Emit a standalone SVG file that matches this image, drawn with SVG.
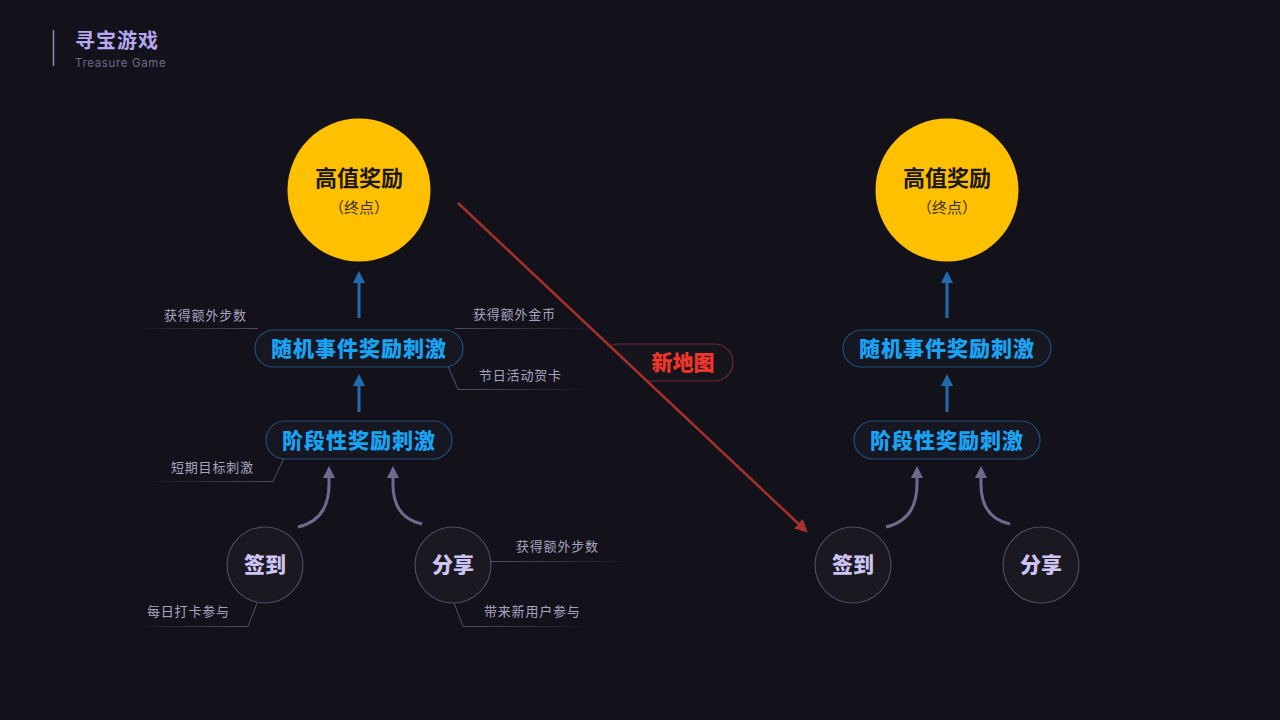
<svg xmlns="http://www.w3.org/2000/svg" width="1280" height="720" viewBox="0 0 1280 720">
<defs>
<style>
.cjk{font-family:"Noto Sans CJK SC","Noto Sans",sans-serif}
.goal{fill:#ffc000}
.goalT{font-size:22px;font-weight:700;fill:#1a1714;text-anchor:middle}
.goalS{font-size:15px;fill:#3a3020;text-anchor:middle}
.pill{fill:#161720;stroke:#1f4f7c;stroke-width:1.2}
.pillT{font-size:21px;font-weight:900;fill:#19a3f5;text-anchor:middle;letter-spacing:1px}
.act{fill:#1a1922;stroke:#4d4a63;stroke-width:1.2}
.actT{font-size:21px;font-weight:900;fill:#cdc4f2;text-anchor:middle}
.note{font-size:13px;fill:#a8a4c0;letter-spacing:0.8px}
.nl{fill:none;stroke-width:1}
.blue{stroke:#1f6db0;stroke-width:3;fill:none}
.gray{stroke:#6f6a8e;stroke-width:3;fill:none}
</style>
<marker id="ab" viewBox="0 0 10 10" refX="5" refY="5" markerWidth="4" markerHeight="4" orient="auto"><path d="M0,0 L10,5 L0,10 z" fill="#1f6db0"/></marker>
<marker id="ag" viewBox="0 0 10 10" refX="5" refY="5" markerWidth="4" markerHeight="4" orient="auto"><path d="M0,0 L10,5 L0,10 z" fill="#6f6a8e"/></marker>
<marker id="ar" viewBox="0 0 10 10" refX="6" refY="5" markerWidth="5" markerHeight="5" orient="auto"><path d="M0,0 L10,5 L0,10 z" fill="#a3302b"/></marker>
<clipPath id="mapClip"><polygon points="598,335 760,335 760,390 656.4,390"/></clipPath>
<linearGradient id="gL1" gradientUnits="userSpaceOnUse" x1="135" y1="0" x2="258" y2="0"><stop offset="0" stop-color="#4e4b63" stop-opacity="0"/><stop offset="1" stop-color="#4e4b63"/></linearGradient>
<linearGradient id="gR1" gradientUnits="userSpaceOnUse" x1="455" y1="0" x2="600" y2="0"><stop offset="0" stop-color="#4e4b63"/><stop offset="1" stop-color="#4e4b63" stop-opacity="0"/></linearGradient>
<linearGradient id="gR2" gradientUnits="userSpaceOnUse" x1="448" y1="0" x2="595" y2="0"><stop offset="0" stop-color="#55526b"/><stop offset="1" stop-color="#55526b" stop-opacity="0"/></linearGradient>
<linearGradient id="gL2" gradientUnits="userSpaceOnUse" x1="145" y1="0" x2="285" y2="0"><stop offset="0" stop-color="#55526b" stop-opacity="0"/><stop offset="1" stop-color="#55526b"/></linearGradient>
<linearGradient id="gL3" gradientUnits="userSpaceOnUse" x1="128" y1="0" x2="258" y2="0"><stop offset="0" stop-color="#55526b" stop-opacity="0"/><stop offset="1" stop-color="#55526b"/></linearGradient>
<linearGradient id="gR3" gradientUnits="userSpaceOnUse" x1="491" y1="0" x2="630" y2="0"><stop offset="0" stop-color="#55526b"/><stop offset="1" stop-color="#55526b" stop-opacity="0"/></linearGradient>
<linearGradient id="gR4" gradientUnits="userSpaceOnUse" x1="453" y1="0" x2="595" y2="0"><stop offset="0" stop-color="#55526b"/><stop offset="1" stop-color="#55526b" stop-opacity="0"/></linearGradient>
</defs>
<rect width="1280" height="720" fill="#13121a"/>

<g id="title">
<line x1="53.5" y1="30" x2="53.5" y2="66" stroke="#8f86c0" stroke-width="1.5"/>
<text class="cjk" x="75" y="48" font-size="20" font-weight="700" fill="#b6a8f2" letter-spacing="1">寻宝游戏</text>
<text x="75" y="67" font-family="Inter, 'Liberation Sans', sans-serif" font-size="11.5" fill="#6f6b88" letter-spacing="0.65">Treasure Game</text>
</g>

<g id="connectors">
<line class="blue" x1="359" y1="318" x2="359" y2="277" marker-end="url(#ab)"/>
<line class="blue" x1="359" y1="412" x2="359" y2="380" marker-end="url(#ab)"/>
<path class="gray" d="M298,527 Q329,520 329,484 L329,472" marker-end="url(#ag)"/>
<path class="gray" d="M422,524 Q393,518 393,484 L393,472" marker-end="url(#ag)"/>
<line class="blue" x1="947" y1="318" x2="947" y2="277" marker-end="url(#ab)"/>
<line class="blue" x1="947" y1="412" x2="947" y2="380" marker-end="url(#ab)"/>
<path class="gray" d="M886,527 Q917,520 917,484 L917,472" marker-end="url(#ag)"/>
<path class="gray" d="M1010,524 Q981,518 981,484 L981,472" marker-end="url(#ag)"/>
</g>

<g id="notes">
<line class="nl" x1="135" y1="328.5" x2="258" y2="328.5" stroke="url(#gL1)"/>
<line class="nl" x1="455" y1="328.5" x2="600" y2="328.5" stroke="url(#gR1)"/>
<path class="nl" d="M448,366 L458,389.5 L595,389.5" stroke="url(#gR2)"/>
<path class="nl" d="M284,458 L273,481.5 L145,481.5" stroke="url(#gL2)"/>
<path class="nl" d="M257,603 L248,626.5 L128,626.5" stroke="url(#gL3)"/>
<line class="nl" x1="491" y1="561.5" x2="630" y2="561.5" stroke="url(#gR3)"/>
<path class="nl" d="M454,603 L463,626.5 L595,626.5" stroke="url(#gR4)"/>
<text class="cjk note" x="164" y="320">获得额外步数</text>
<text class="cjk note" x="473" y="319">获得额外金币</text>
<text class="cjk note" x="479" y="380">节日活动贺卡</text>
<text class="cjk note" x="171" y="472">短期目标刺激</text>
<text class="cjk note" x="147" y="616">每日打卡参与</text>
<text class="cjk note" x="516" y="551">获得额外步数</text>
<text class="cjk note" x="484" y="616">带来新用户参与</text>
</g>

<g id="goal-left">
<circle class="goal" cx="359" cy="190" r="71.5"/>
<text class="cjk goalT" x="359" y="186">高值奖励</text>
<text class="cjk goalS" x="359" y="213">（终点）</text>
</g>
<g id="random-left">
<rect class="pill" x="255" y="330" width="208" height="37" rx="18.5"/>
<text class="cjk pillT" x="359" y="356">随机事件奖励刺激</text>
</g>
<g id="stage-left">
<rect class="pill" x="266" y="421" width="186" height="38" rx="19"/>
<text class="cjk pillT" x="359" y="448">阶段性奖励刺激</text>
</g>
<g id="checkin-left">
<circle class="act" cx="265" cy="565" r="38"/>
<text class="cjk actT" x="265" y="572">签到</text>
</g>
<g id="share-left">
<circle class="act" cx="453" cy="565" r="38"/>
<text class="cjk actT" x="453" y="572">分享</text>
</g>

<g id="new-map">
<rect x="600" y="344" width="133" height="37" rx="18.5" fill="#16151d" stroke="#6e2a2c" stroke-width="1.2" clip-path="url(#mapClip)"/>
<text class="cjk" x="683" y="370" font-size="21" font-weight="900" fill="#f2352a" text-anchor="middle">新地图</text>
</g>
<g id="red-connector">
<line x1="458" y1="203" x2="804" y2="529" stroke="#a3302b" stroke-width="2.6" marker-end="url(#ar)"/>
</g>

<g id="goal-right">
<circle class="goal" cx="947" cy="190" r="71.5"/>
<text class="cjk goalT" x="947" y="186">高值奖励</text>
<text class="cjk goalS" x="947" y="213">（终点）</text>
</g>
<g id="random-right">
<rect class="pill" x="843" y="330" width="208" height="37" rx="18.5"/>
<text class="cjk pillT" x="947" y="356">随机事件奖励刺激</text>
</g>
<g id="stage-right">
<rect class="pill" x="854" y="421" width="186" height="38" rx="19"/>
<text class="cjk pillT" x="947" y="448">阶段性奖励刺激</text>
</g>
<g id="checkin-right">
<circle class="act" cx="853" cy="565" r="38"/>
<text class="cjk actT" x="853" y="572">签到</text>
</g>
<g id="share-right">
<circle class="act" cx="1041" cy="565" r="38"/>
<text class="cjk actT" x="1041" y="572">分享</text>
</g>
</svg>
